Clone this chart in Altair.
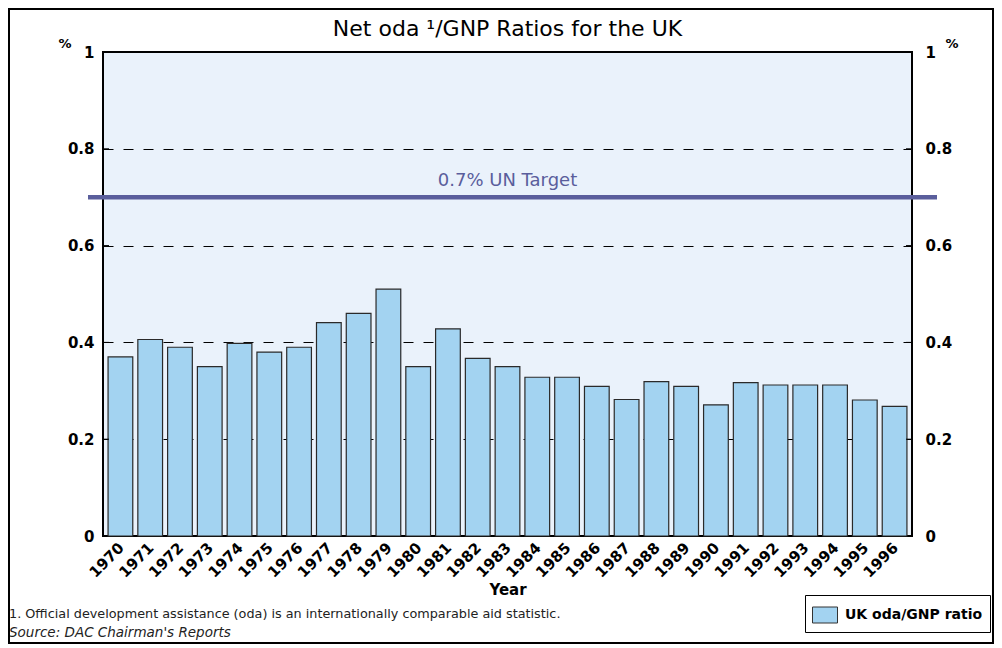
import altair as alt
import pandas as pd

# ---- data -------------------------------------------------------------
years = [str(y) for y in range(1970, 1997)]
ratios = [0.370, 0.406, 0.390, 0.350, 0.398, 0.380, 0.390, 0.441, 0.460, 0.510,
          0.350, 0.428, 0.367, 0.350, 0.328, 0.328, 0.309, 0.282, 0.319, 0.309,
          0.271, 0.317, 0.312, 0.312, 0.312, 0.281, 0.268]
series_name = "UK oda/GNP ratio"
y_ticks = [0, 0.2, 0.4, 0.6, 0.8, 1]
inner_ticks = [0.2, 0.4, 0.6, 0.8]
target_value = [0.7]
target_label = ["0.7% UN Target"]
title_text = "Net oda \u00b9/GNP Ratios for the UK"
footnote_text = "1. Official development assistance (oda) is an internationally comparable aid statistic."
source_text = "Source: DAC Chairman's Reports"

W, H = 809, 484
FONT = "DejaVu Sans"

df = pd.DataFrame({"year": years, "ratio": ratios, "series": [series_name] * len(years)})
tick_df = pd.DataFrame({"v": inner_ticks})
target_df = pd.DataFrame({"v": target_value, "label": target_label})
one = pd.DataFrame({"a": [0]})

yscale = alt.Scale(domain=[0, 1], nice=False, zero=True)

bars = alt.Chart(df).mark_bar(stroke="#2a2a2a", strokeWidth=1.2).encode(
    x=alt.X("year:N",
            scale=alt.Scale(paddingInner=0.17, paddingOuter=0.17),
            axis=alt.Axis(title="Year", labelAngle=315, labelFont=FONT,
                          labelFontWeight="bold", labelFontSize=15, labelColor="black",
                          labelPadding=4, labelOffset=-4, ticks=False, domain=False,
                          titleFont=FONT, titleFontWeight="bold", titleFontSize=15,
                          titleColor="black", titlePadding=2)),
    y=alt.Y("ratio:Q", scale=yscale,
            axis=alt.Axis(orient="left", values=y_ticks, format=".1~f", grid=True,
                          gridDash=[10, 10], gridColor="black", gridWidth=1,
                          ticks=False, domain=False, labelPadding=9, title=None,
                          labelFont=FONT, labelFontWeight="bold", labelFontSize=15,
                          labelColor="black")),
    color=alt.Color("series:N", scale=alt.Scale(range=["#A3D3F1"]),
                    legend=alt.Legend(orient="none", legendX=702, legendY=543,
                                      title=None, strokeColor="black",
                                      fillColor="white", padding=7,
                                      symbolType="M-1,-0.64L1,-0.64L1,0.64L-1,0.64Z",
                                      symbolSize=625, symbolStrokeColor="#333333",
                                      symbolStrokeWidth=1, labelOffset=7,
                                      labelFont=FONT, labelFontWeight="bold",
                                      labelFontSize=14, labelColor="black")),
)

ticks_left = alt.Chart(tick_df).mark_rule(color="black", strokeWidth=1).encode(
    y=alt.Y("v:Q", scale=yscale, axis=None),
    x=alt.value(0), x2=alt.value(6),
)

ticks_right = alt.Chart(tick_df).mark_rule(color="black", strokeWidth=1).encode(
    y=alt.Y("v:Q", scale=yscale,
            axis=alt.Axis(orient="right", values=y_ticks, format=".1~f", grid=False,
                          ticks=False, domain=False, labelPadding=13, title=None,
                          labelFont=FONT, labelFontWeight="bold", labelFontSize=15,
                          labelColor="black")),
    x=alt.value(W - 6), x2=alt.value(W),
)

target_rule = alt.Chart(target_df).mark_rule(color="#5A5E9C", strokeWidth=4.5).encode(
    y=alt.Y("v:Q", scale=yscale, axis=None),
    x=alt.value(-15), x2=alt.value(W + 25),
)

target_text = alt.Chart(target_df).mark_text(
    font=FONT, fontSize=18, color="#5A5E9C", align="center", baseline="alphabetic", dy=-11
).encode(
    y=alt.Y("v:Q", scale=yscale, axis=None),
    x=alt.value(W / 2),
    text="label:N",
)

title = alt.Chart(one).mark_text(font=FONT, fontSize=22, color="black", align="center",
                                 baseline="alphabetic").encode(
    x=alt.value(W / 2), y=alt.value(-16), text=alt.value(title_text))

pct_left = alt.Chart(one).mark_text(font=FONT, fontSize=13, fontWeight="bold", color="black",
                                    align="center", baseline="alphabetic").encode(
    x=alt.value(-38), y=alt.value(-4), text=alt.value("%"))

pct_right = alt.Chart(one).mark_text(font=FONT, fontSize=13, fontWeight="bold", color="black",
                                     align="center", baseline="alphabetic").encode(
    x=alt.value(849), y=alt.value(-4), text=alt.value("%"))

footnote = alt.Chart(one).mark_text(font=FONT, fontSize=12.8, color="#222222", align="left",
                                    baseline="alphabetic").encode(
    x=alt.value(-94), y=alt.value(566), text=alt.value(footnote_text))

source = alt.Chart(one).mark_text(font=FONT, fontSize=13.5, fontStyle="italic", color="#222222",
                                  align="left", baseline="alphabetic").encode(
    x=alt.value(-94), y=alt.value(585), text=alt.value(source_text))

frame = alt.Chart(one).mark_rect(fill=None, stroke="black", strokeWidth=2).encode(
    x=alt.value(-94), x2=alt.value(890), y=alt.value(-43), y2=alt.value(591))

chart = alt.layer(
    bars, ticks_left, ticks_right, target_rule, target_text, title,
    pct_left, pct_right, footnote, source, frame
).resolve_axis(y="independent").properties(
    width=W, height=H,
    padding={"left": 95, "top": 44, "right": 82, "bottom": 109},
    autosize=alt.AutoSizeParams(type="none"),
).configure_view(fill="#EAF2FB", stroke="black", strokeWidth=2)

chart.save("out.html", embed_options={"renderer": "svg", "actions": False})
